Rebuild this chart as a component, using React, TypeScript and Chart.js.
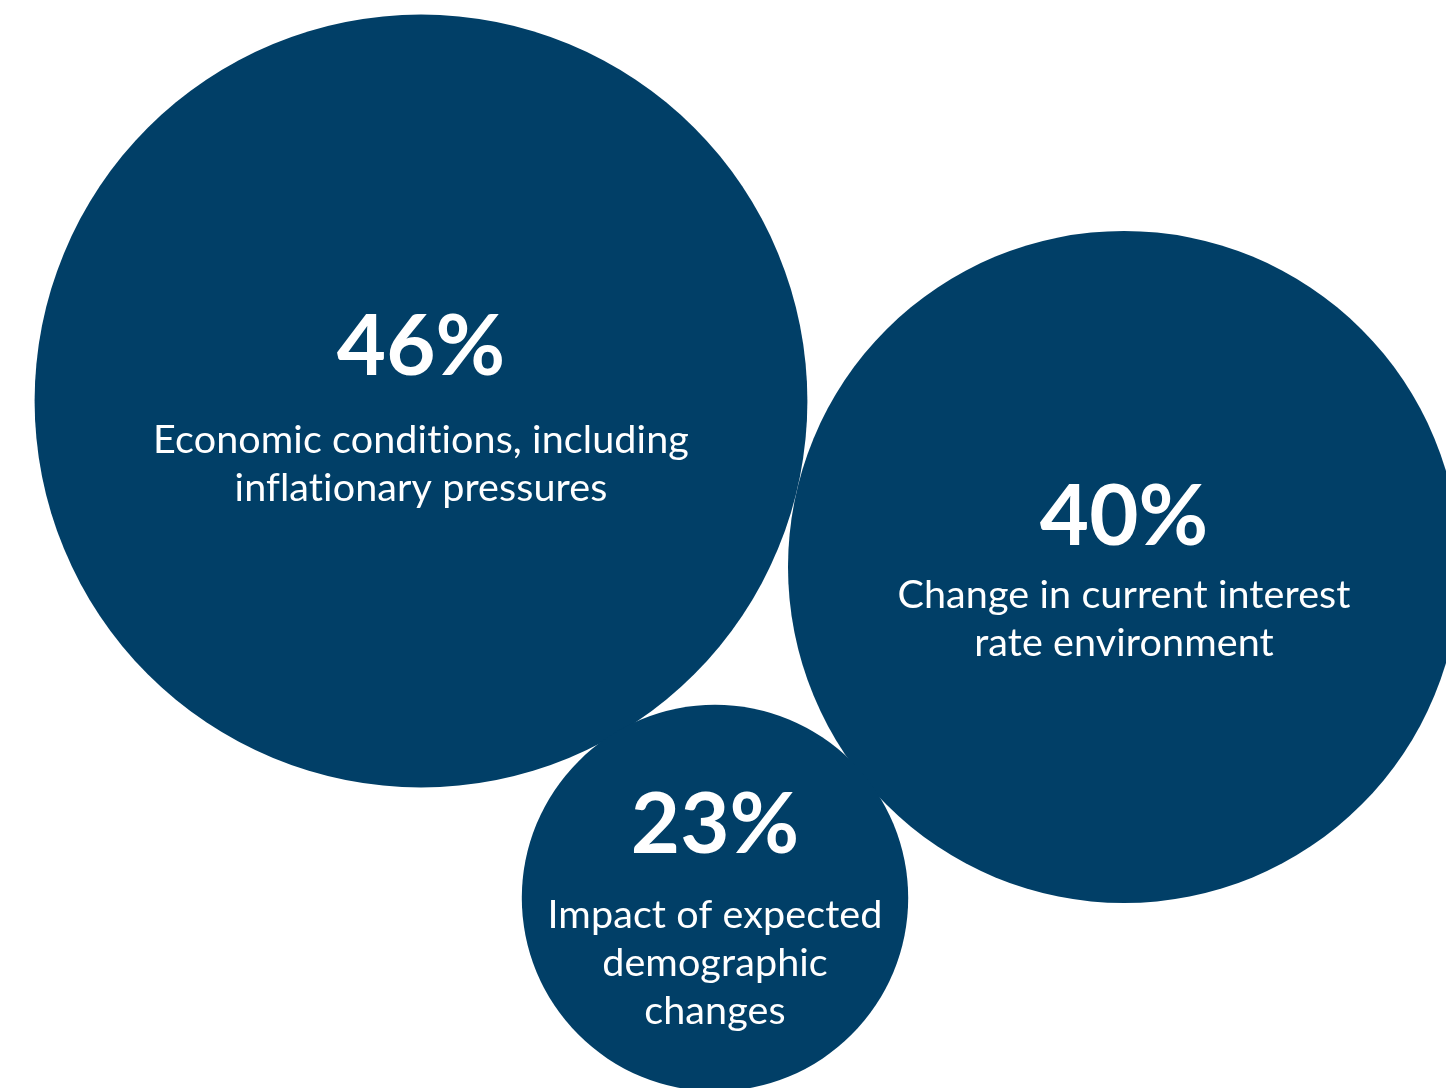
import React, { useEffect, useRef } from "react";
import { Chart, registerables } from "chart.js";

Chart.register(...registerables);

// ---- data ----
const categories: string[][] = [
  ["Economic conditions, including", "inflationary pressures"],
  ["Change in current interest", "rate environment"],
  ["Impact of expected", "demographic", "changes"],
];
const values: number[] = [46, 40, 23];
// bubble centres in the chart's own units (x: 0..1446, y: 0..1088 from top)
const xs: number[] = [421, 1124, 715];
const ys: number[] = [401, 567, 898];

// ---- style ----
const RADIUS_PER_POINT = 8.4;
const BUBBLE_COLOR = "#013f67";
const pctBaselineOffset = [-26, -22, -45];
const labelBaselineOffset = [52, 41, 30];
const LINE_HEIGHT = 48;

const textPlugin = {
  id: "bubbleText",
  afterDatasetsDraw(chart: any) {
    const ctx = chart.ctx;
    const meta = chart.getDatasetMeta(0);
    ctx.save();
    ctx.fillStyle = "#ffffff";
    ctx.textAlign = "center";
    ctx.textBaseline = "alphabetic";
    meta.data.forEach((el: any, i: number) => {
      const cx = el.x;
      const cy = el.y;
      ctx.font = "700 85px Lato";
      (ctx as any).letterSpacing = "0px";
      ctx.fillText(values[i] + "%", cx, cy + pctBaselineOffset[i]);
      ctx.font = "400 39.5px Lato";
      (ctx as any).letterSpacing = "0.1px";
      categories[i].forEach((line, j) => {
        ctx.fillText(line, cx, cy + labelBaselineOffset[i] + j * LINE_HEIGHT);
      });
    });
    ctx.restore();
  },
};

export default function App() {
  const ref = useRef<HTMLCanvasElement | null>(null);
  useEffect(() => {
    document.body.style.margin = "0";
    if (!ref.current) return;
    const chart = new Chart(ref.current, {
      type: "bubble",
      data: {
        datasets: [
          {
            data: values.map((v, i) => ({ x: xs[i], y: ys[i], r: v * RADIUS_PER_POINT })),
            backgroundColor: BUBBLE_COLOR,
            borderWidth: 0,
            hoverRadius: 0,
            clip: false as any,
          },
        ],
      },
      options: {
        animation: false,
        responsive: true,
        maintainAspectRatio: false,
        events: [],
        layout: { padding: 0, autoPadding: false },
        plugins: { legend: { display: false }, tooltip: { enabled: false } },
        scales: {
          x: { type: "linear", min: 0, max: 1446, display: false },
          y: { type: "linear", min: 0, max: 1088, reverse: true, display: false },
        },
      },
      plugins: [textPlugin],
    });
    (document as any).fonts?.load?.("700 85px Lato").then(() => chart.update()).catch(() => {});
    return () => chart.destroy();
  }, []);
  return (
    <div style={{ position: "fixed", left: 0, top: 0, width: 1446, height: 1088, background: "#fff" }}>
      <canvas ref={ref} />
    </div>
  );
}
